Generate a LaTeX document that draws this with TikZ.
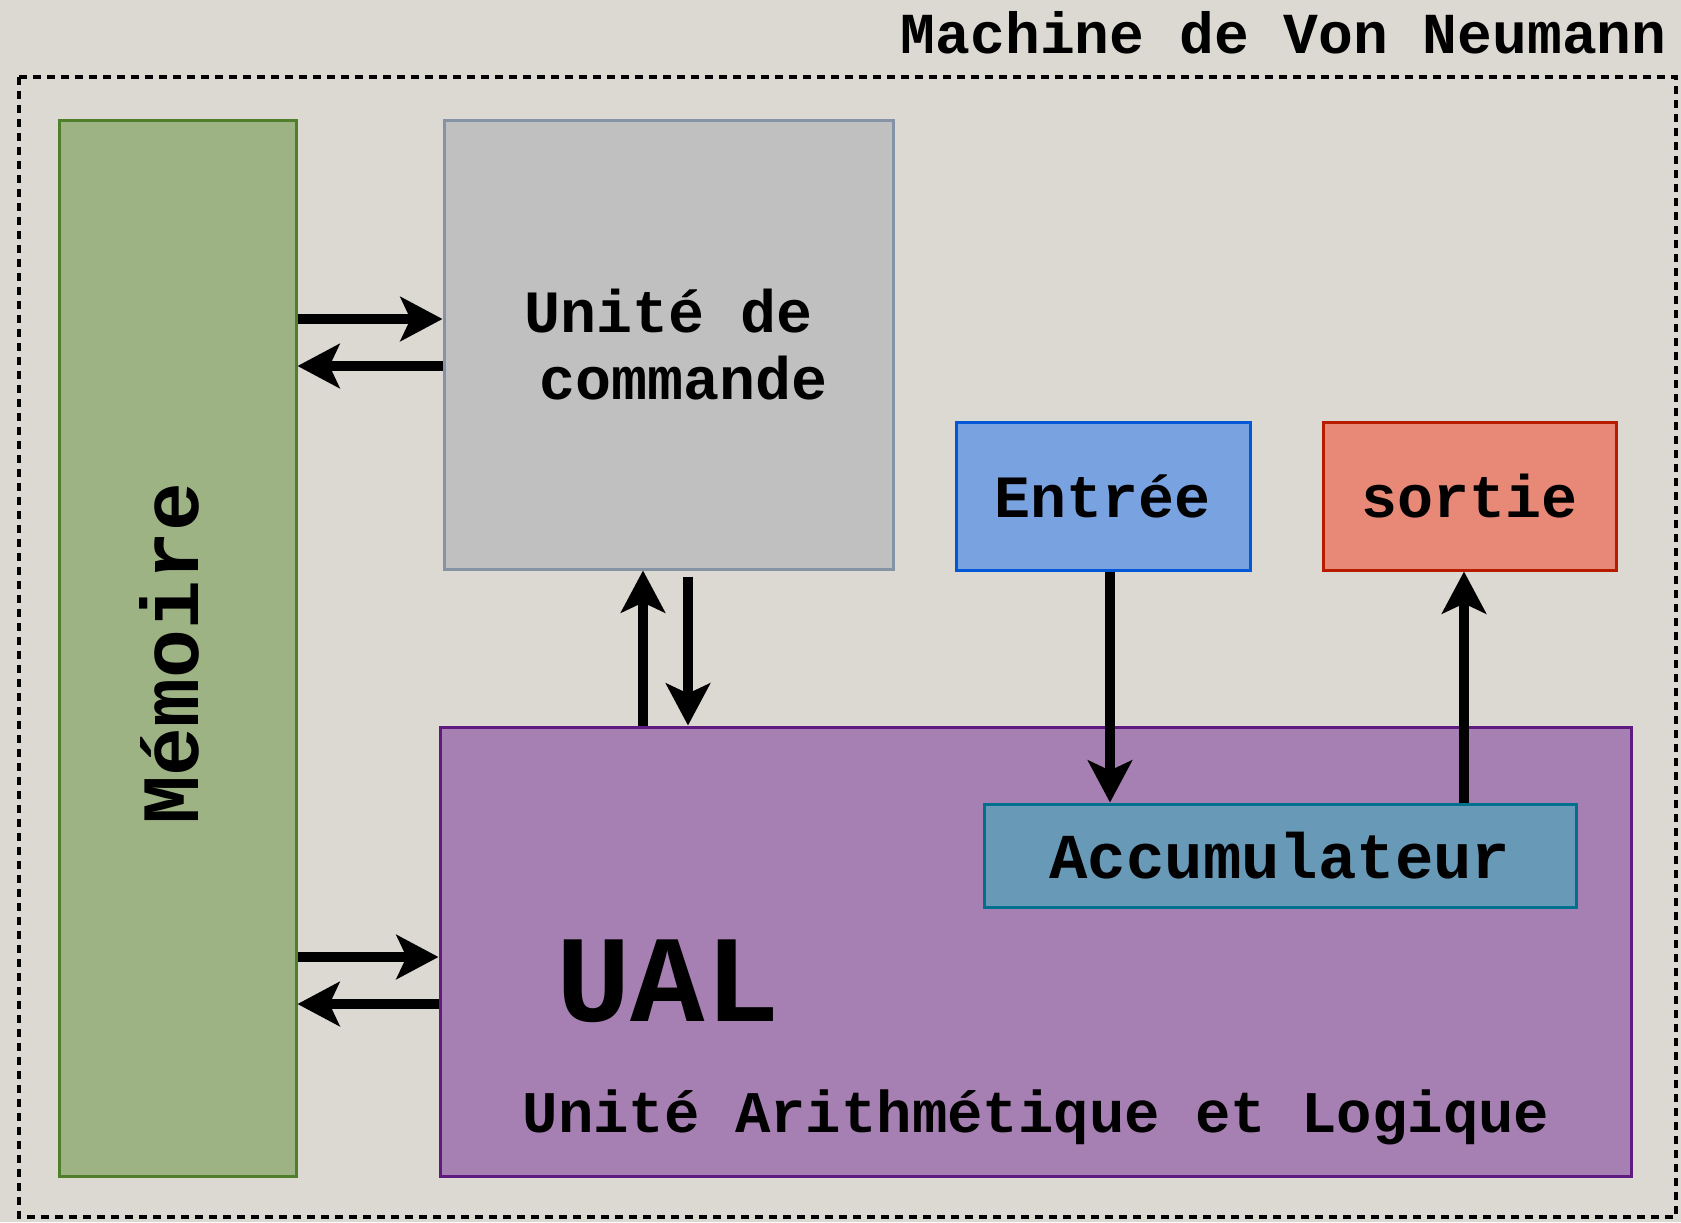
\documentclass[tikz,border=0pt]{standalone}
\usepackage{fontspec}
\setmonofont{Liberation Mono}
\usepackage{xcolor}
\usepackage{tikz}
\usetikzlibrary{arrows.meta}

\definecolor{fond}{HTML}{DCD9D2}
\definecolor{memfond}{HTML}{9DB384}
\definecolor{membord}{HTML}{4F7F2B}
\definecolor{ucfond}{HTML}{C0C0C0}
\definecolor{ucbord}{HTML}{8494A4}
\definecolor{entfond}{HTML}{78A2E0}
\definecolor{entbord}{HTML}{0058D6}
\definecolor{sorfond}{HTML}{E88876}
\definecolor{sorbord}{HTML}{B81C00}
\definecolor{ualfond}{HTML}{A680B2}
\definecolor{ualbord}{HTML}{5F1B7F}
\definecolor{accfond}{HTML}{6899B6}
\definecolor{accbord}{HTML}{00708C}

\newcommand{\taille}[1]{\ttfamily\bfseries\fontsize{#1}{1.12\dimexpr#1pt\relax}\selectfont}

\begin{document}
\begin{tikzpicture}[x=0.5pt,y=-0.5pt,
  boite/.style={draw,line width=1.5pt,inner sep=0pt,align=center,font=\taille{30}},
  fleche/.style={line width=5pt,-{Stealth[length=21pt,width=22pt,inset=5pt]}}]
  \fill[fond] (0,0) rectangle (1681,1222);
  \useasboundingbox (0,0) rectangle (1681,1222);
  \node[anchor=east,inner sep=0pt,font=\taille{29}] (titre) at (1667,33) {Machine de Von Neumann};
  \draw[line width=2pt,dash pattern=on 4pt off 3pt] (19,77) rectangle (1676,1217);

  \node[boite,draw=membord,fill=memfond,minimum width=118.5pt,minimum height=528pt] (mem) at (177.5,648) {};
  \node[rotate=90,inner sep=0pt,font=\taille{40.7}] (memtexte) at (169,654) {Mémoire};
  \node[boite,draw=ucbord,fill=ucfond,minimum width=224.5pt,minimum height=224.5pt,font=\ttfamily\bfseries\fontsize{30}{33.5}\selectfont] (uc) at (668.5,344.5) {Unité de\\\hspace*{0.5em}commande};
  \node[boite,draw=entbord,fill=entfond,minimum width=147pt,minimum height=74pt] (entree) at (1103,496) {Entrée};
  \node[boite,draw=sorbord,fill=sorfond,minimum width=146.5pt,minimum height=74pt] (sortie) at (1469.5,496) {sortie};
  \node[boite,draw=ualbord,fill=ualfond,minimum width=595.5pt,minimum height=224.5pt] (ual) at (1035.5,951.5) {};
  \node[boite,draw=accbord,fill=accfond,minimum width=296pt,minimum height=51.5pt,font=\taille{32}] (acc) at (1280,855.5) {Accumulateur};
  \node[anchor=west,inner sep=0pt,font=\taille{62}] (ualtitre) at (556,981) {UAL};
  \node[inner sep=0pt,font=\taille{29.5}] (ualnom) at (1036,1117) {Unité Arithmétique et Logique};

  % memoire <-> unite de commande
  \draw[fleche] (mem.east |- 0,319) -- (uc.west |- 0,319);
  \draw[fleche] (uc.west |- 0,366) -- (mem.east |- 0,366);
  % memoire <-> UAL
  \draw[fleche] (mem.east |- 0,957) -- (ual.west |- 0,957);
  \draw[fleche] (ual.west |- 0,1004) -- (mem.east |- 0,1004);
  % unite de commande <-> UAL
  \draw[fleche] (ual.north -| 643,0) -- (uc.south -| 643,0);
  \draw[fleche,shorten <=3pt] (uc.south -| 688,0) -- (ual.north -| 688,0);
  % entree / sortie
  \draw[fleche] (entree.south -| 1110,0) -- (acc.north -| 1110,0);
  \draw[fleche] (acc.north -| 1464,0) -- (sortie.south -| 1464,0);
\end{tikzpicture}
\end{document}
